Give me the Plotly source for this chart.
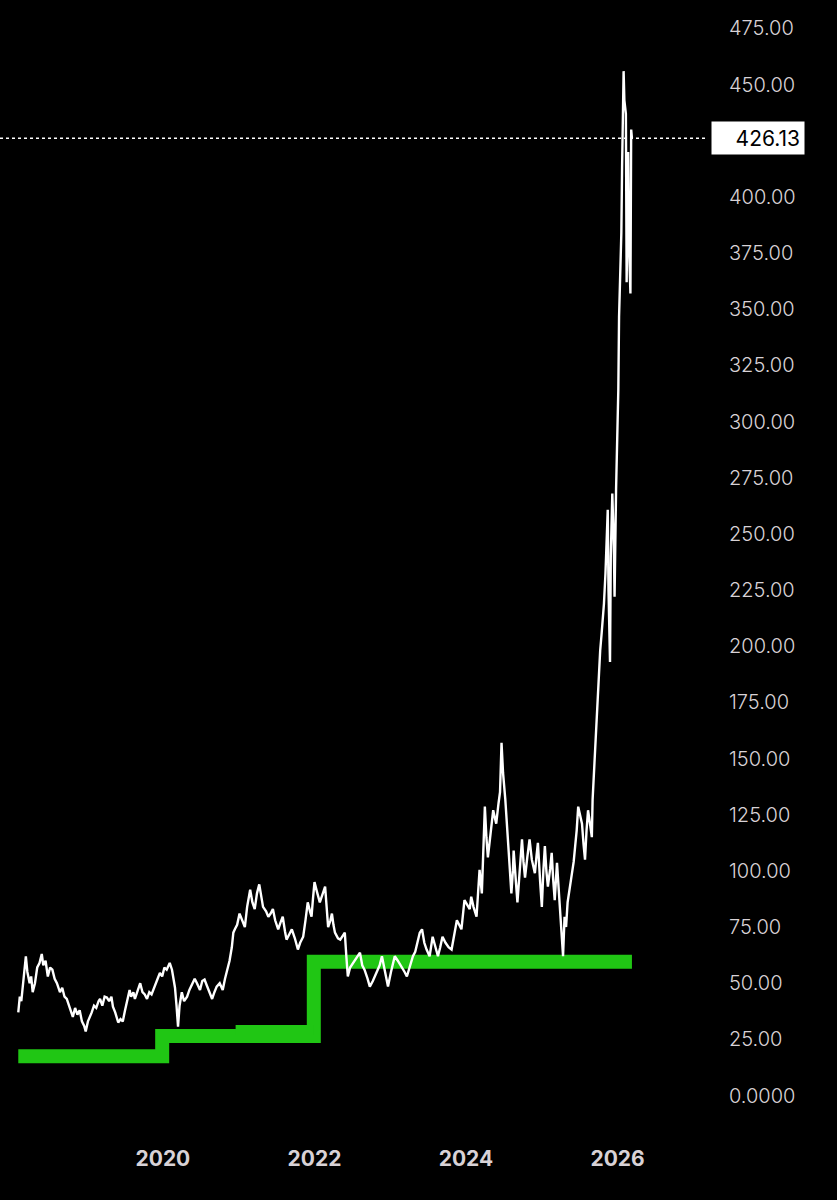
import pandas as pd
import plotly.graph_objects as go

# price path (decimal year, close)
price_years = [
    2018.09, 2018.11, 2018.13, 2018.16, 2018.19, 2018.21, 2018.24, 2018.26, 2018.28, 2018.31,
    2018.34, 2018.37, 2018.40, 2018.42, 2018.45, 2018.48, 2018.51, 2018.54, 2018.57, 2018.60,
    2018.64, 2018.67, 2018.70, 2018.73, 2018.76, 2018.79, 2018.81, 2018.84, 2018.87, 2018.90,
    2018.93, 2018.96, 2018.98, 2019.01, 2019.04, 2019.06, 2019.09, 2019.12, 2019.15, 2019.17,
    2019.20, 2019.23, 2019.26, 2019.29, 2019.32, 2019.34, 2019.37, 2019.39, 2019.41, 2019.44,
    2019.47, 2019.50, 2019.53, 2019.56, 2019.58, 2019.61, 2019.63, 2019.66, 2019.68, 2019.70,
    2019.73, 2019.76, 2019.79, 2019.82, 2019.85, 2019.87, 2019.90, 2019.93, 2019.96, 2019.99,
    2020.02, 2020.05, 2020.09, 2020.12, 2020.14, 2020.16, 2020.18, 2020.20, 2020.22, 2020.25,
    2020.28, 2020.32, 2020.35, 2020.38, 2020.42, 2020.45, 2020.49, 2020.52, 2020.55, 2020.58,
    2020.62, 2020.65, 2020.68, 2020.71, 2020.75, 2020.79, 2020.82, 2020.84, 2020.88, 2020.91,
    2020.93, 2020.95, 2020.98, 2021.01, 2021.04, 2021.08, 2021.11, 2021.15, 2021.18, 2021.21,
    2021.24, 2021.27, 2021.30, 2021.32, 2021.36, 2021.39, 2021.42, 2021.45, 2021.48, 2021.52,
    2021.55, 2021.58, 2021.61, 2021.63, 2021.67, 2021.70, 2021.74, 2021.78, 2021.81, 2021.85,
    2021.88, 2021.91, 2021.94, 2021.96, 2021.98, 2022.00, 2022.03, 2022.07, 2022.10, 2022.14,
    2022.16, 2022.18, 2022.21, 2022.23, 2022.25, 2022.27, 2022.31, 2022.34, 2022.37, 2022.40,
    2022.42, 2022.44, 2022.47, 2022.51, 2022.55, 2022.60, 2022.63, 2022.66, 2022.70, 2022.73,
    2022.77, 2022.82, 2022.86, 2022.89, 2022.93, 2022.97, 2023.01, 2023.06, 2023.10, 2023.15,
    2023.19, 2023.22, 2023.26, 2023.30, 2023.33, 2023.36, 2023.39, 2023.42, 2023.45, 2023.48,
    2023.52, 2023.56, 2023.60, 2023.63, 2023.66, 2023.69, 2023.73, 2023.77, 2023.81, 2023.85,
    2023.88, 2023.91, 2023.94, 2023.98, 2024.01, 2024.05, 2024.07, 2024.10, 2024.14, 2024.16,
    2024.18, 2024.21, 2024.23, 2024.25, 2024.27, 2024.29, 2024.32, 2024.36, 2024.38, 2024.40,
    2024.43, 2024.45, 2024.47, 2024.49, 2024.52, 2024.54, 2024.55, 2024.58, 2024.60, 2024.62,
    2024.63, 2024.66, 2024.68, 2024.71, 2024.74, 2024.76, 2024.78, 2024.81, 2024.84, 2024.87,
    2024.91, 2024.93, 2024.95, 2024.98, 2025.00, 2025.02, 2025.04, 2025.06, 2025.08, 2025.11,
    2025.13, 2025.15, 2025.17, 2025.20, 2025.22, 2025.24, 2025.26, 2025.28, 2025.30, 2025.32,
    2025.34, 2025.37, 2025.40, 2025.42, 2025.44, 2025.46, 2025.48, 2025.51, 2025.53, 2025.55,
    2025.57, 2025.59, 2025.61, 2025.64, 2025.66, 2025.67, 2025.69, 2025.70, 2025.72, 2025.74,
    2025.75, 2025.77, 2025.79, 2025.82, 2025.84, 2025.86, 2025.87, 2025.88, 2025.90, 2025.91,
    2025.93, 2025.95, 2025.96, 2025.98, 2025.99, 2026.01, 2026.02, 2026.04, 2026.05, 2026.06,
    2026.07, 2026.08, 2026.09, 2026.10, 2026.11, 2026.12, 2026.13, 2026.14, 2026.15, 2026.17,
    2026.18, 2026.19,
]
price_values = [
    37, 44, 42, 52, 62, 55, 50, 53, 46, 50,
    57, 59, 63, 58, 60, 53, 57, 56, 52, 50,
    46, 48, 44, 43, 40, 37, 35, 39, 36, 38,
    33, 31, 28.5, 33, 35, 37, 40, 39, 42, 43,
    40, 44, 43.6, 42, 44, 39.6, 37, 34, 32.5, 34,
    33, 38, 42, 47, 44, 46, 43, 46, 48, 50,
    46, 45, 43, 46, 45, 47, 49, 52, 54.6, 53,
    57, 56, 59, 56, 52, 48, 40, 30.7, 40, 46,
    42, 44, 47, 49, 52, 50, 47, 51, 51.6, 49,
    46, 43, 46, 48.5, 50, 47, 52, 54.7, 60, 66,
    72.5, 74, 76, 81, 78, 75, 84, 91.6, 86, 83,
    90, 94, 88, 84, 82, 79.6, 81, 83, 78, 74,
    77, 79.6, 73, 69.4, 72, 74, 70, 65, 68, 70.7,
    78, 86, 82, 79.6, 88, 95, 91, 86, 89, 93,
    84, 75, 78, 81, 76, 72.5, 70, 69.4, 71, 72.5,
    62, 53, 57, 59, 61, 63.6, 58, 56, 52, 48.5,
    51, 54.7, 58, 62, 55, 48.5, 55, 62, 60, 57.4,
    55, 53, 58, 62, 64, 68, 72.5, 74, 68, 65,
    62, 70.7, 66, 62, 66, 70.7, 68, 66, 65, 72,
    78, 76, 74, 87, 85, 83, 88.5, 84, 79.6, 90,
    100.5, 90, 110, 128.6, 115, 106, 115, 127, 124, 121,
    130, 135, 157, 143.6, 131.7, 122, 115, 100, 90, 100,
    109, 95, 86, 100, 114, 104, 97, 106, 114, 105,
    99, 106, 112.5, 95, 84, 100, 111, 100, 93, 101,
    108, 96, 87, 103.6, 94, 84, 72, 62, 79.6, 75,
    86, 92, 99, 104, 111, 118, 128.6, 124, 121, 112,
    105, 118, 127, 120, 115, 131.7, 145, 157, 170, 180,
    191, 198, 206, 219, 232.6, 248.7, 260.7, 225, 193, 240,
    268, 245, 222, 270, 283, 314, 346.6, 366, 384, 413,
    440, 456, 443, 438.6, 437, 362, 400, 420, 380, 357,
    430, 426.13,
]

# green support steps
support_years = [2018.09, 2019.99, 2019.99, 2021.99, 2021.99, 2026.19]
support_values = [17.5, 17.5, 26.5, 26.5, 59.5, 59.5]
upper_years = [2020.96, 2021.99]
upper_values = [29.2, 29.2]

last_price = 426.13
# 425.00 sits under the last-price box in the reference, so it is not shown
tick_vals = [0, 25, 50, 75, 100, 125, 150, 175, 200, 225, 250, 275, 300, 325, 350, 375, 400, 450, 475]
tick_text = ["0.0000", "25.00", "50.00", "75.00", "100.00", "125.00", "150.00", "175.00", "200.00",
             "225.00", "250.00", "275.00", "300.00", "325.00", "350.00", "375.00", "400.00",
             "450.00", "475.00"]

GREEN = "#20c614"
LABEL = "#d8d2d6"


def to_date(y):
    year = int(y)
    return pd.Timestamp(year, 1, 1) + pd.Timedelta(days=(y - year) * 365.25)


fig = go.Figure()
fig.add_trace(go.Scatter(
    x=[to_date(y) for y in support_years], y=support_values, mode="lines",
    line={"color": GREEN, "width": 14}, hoverinfo="skip",
))
fig.add_trace(go.Scatter(
    x=[to_date(y) for y in upper_years], y=upper_values, mode="lines",
    line={"color": GREEN, "width": 10}, hoverinfo="skip",
))
fig.add_trace(go.Scatter(
    x=[to_date(y) for y in price_years], y=price_values, mode="lines",
    line={"color": "white", "width": 2.4}, name="price",
))

fig.add_shape(
    type="line", xref="paper", yref="y", x0=0, x1=0.983, y0=last_price, y1=last_price,
    line={"color": "white", "width": 1.5, "dash": "dot"},
)
fig.add_annotation(
    xref="paper", yref="y", x=0.988, y=last_price, xanchor="left", yanchor="middle",
    text=f"{last_price:.2f}", showarrow=False, bgcolor="white", borderpad=4,
    width=84, height=24, align="right",
    font={"family": "Inter", "size": 21, "color": "black"},
)

fig.update_layout(
    width=837, height=1200,
    paper_bgcolor="black", plot_bgcolor="black",
    showlegend=False,
    margin={"l": 0, "r": 117, "t": 6, "b": 82},
)
fig.update_xaxes(
    type="date",
    range=[to_date(2017.848), to_date(2027.353)],
    tickvals=[to_date(2020), to_date(2022), to_date(2024), to_date(2026)],
    ticktext=["2020", "2022", "2024", "2026"],
    showgrid=False, zeroline=False, showline=False,
    ticklabelstandoff=26,
    tickfont={"family": "Inter", "size": 21, "color": LABEL, "weight": "bold"},
)
fig.update_yaxes(
    side="right", range=[-10, 485],
    tickvals=tick_vals, ticktext=tick_text,
    showgrid=False, zeroline=False, showline=False,
    ticklabelstandoff=8,
    tickfont={"family": "Inter", "size": 20, "color": LABEL, "weight": 300},
)

fig.write_html(
    "out.html",
    config={"displayModeBar": False},
    post_script="document.body.style.margin='0';document.body.style.background='black';",
)
